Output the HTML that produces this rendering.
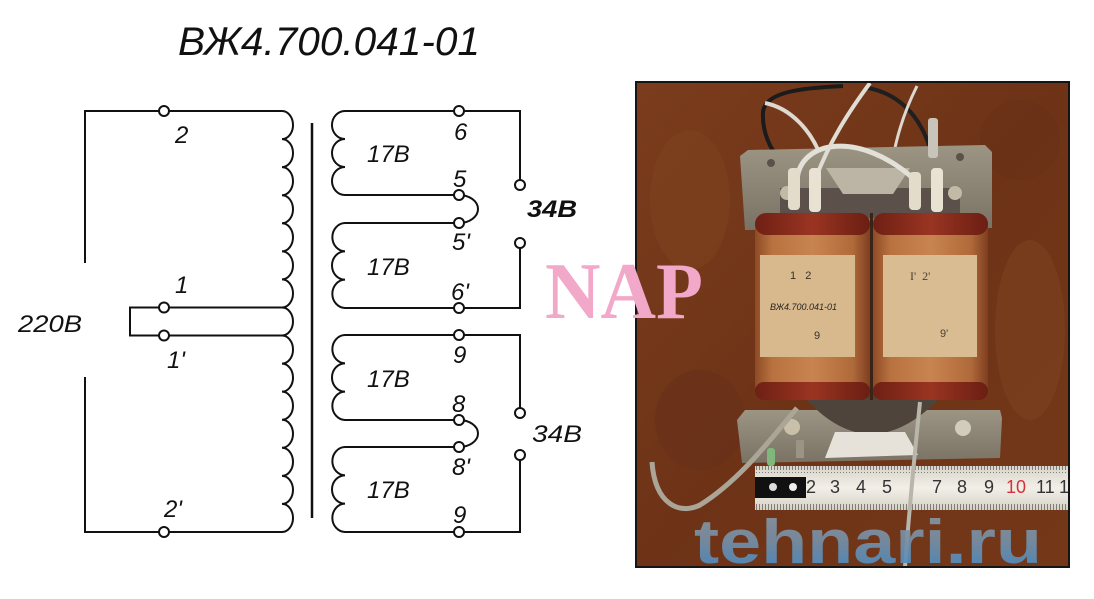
<!DOCTYPE html>
<html>
<head>
<meta charset="utf-8">
<style>
  html,body{margin:0;padding:0;background:#fff;}
  svg{display:block;}
  .lbl{font-family:"Liberation Sans","DejaVu Sans",sans-serif;font-style:italic;font-size:24px;fill:#111;}
  .w{fill:none;stroke:#111;stroke-width:2;}
  .c{fill:#fff;stroke:#111;stroke-width:2;}
</style>
</head>
<body>
<svg width="1094" height="599" viewBox="0 0 1094 599" xmlns="http://www.w3.org/2000/svg">
  <defs>
    <linearGradient id="bg" x1="0" y1="0" x2="1" y2="1">
      <stop offset="0" stop-color="#7a3c1c"/>
      <stop offset="0.5" stop-color="#6e3317"/>
      <stop offset="1" stop-color="#743818"/>
    </linearGradient>
    <linearGradient id="cyl" x1="0" y1="0" x2="1" y2="0">
      <stop offset="0" stop-color="#8e4a26"/>
      <stop offset="0.15" stop-color="#b8723f"/>
      <stop offset="0.5" stop-color="#c88450"/>
      <stop offset="0.85" stop-color="#b06a3a"/>
      <stop offset="1" stop-color="#7e3e20"/>
    </linearGradient>
    <linearGradient id="rim" x1="0" y1="0" x2="1" y2="0">
      <stop offset="0" stop-color="#6e2014"/>
      <stop offset="0.5" stop-color="#9a3422"/>
      <stop offset="1" stop-color="#6a1e12"/>
    </linearGradient>
    <linearGradient id="metal" x1="0" y1="0" x2="0" y2="1">
      <stop offset="0" stop-color="#9c9584"/>
      <stop offset="1" stop-color="#7a7264"/>
    </linearGradient>
    <linearGradient id="ruler" x1="0" y1="0" x2="0" y2="1">
      <stop offset="0" stop-color="#d8d4ca"/>
      <stop offset="0.5" stop-color="#f2efe8"/>
      <stop offset="1" stop-color="#d6d2c6"/>
    </linearGradient>
    <linearGradient id="wm" x1="0" y1="0" x2="0" y2="1">
      <stop offset="0" stop-color="#8a98a4"/>
      <stop offset="0.45" stop-color="#7890a6"/>
      <stop offset="1" stop-color="#3f8ccc"/>
    </linearGradient>
    <pattern id="ticks" x="0" y="0" width="3" height="8" patternUnits="userSpaceOnUse">
      <rect x="0" y="0" width="1" height="6" fill="#555"/>
    </pattern>
    <clipPath id="photo"><rect x="636" y="82" width="433" height="485"/></clipPath>
  </defs>

  <!-- ================= SCHEMATIC ================= -->
  <text x="178" y="55" font-family="Liberation Sans, DejaVu Sans, sans-serif" font-style="italic" font-size="40" fill="#111" textLength="302" lengthAdjust="spacingAndGlyphs">ВЖ4.700.041-01</text>

  <!-- core -->
  <line x1="312" y1="123" x2="312" y2="518" stroke="#111" stroke-width="2.5"/>

  <!-- primary winding -->
  <path class="w" d="M85 263 V111 H282
    A11 14.03 0 0 1 282 139.07
    A11 14.03 0 0 1 282 167.13
    A11 14.03 0 0 1 282 195.2
    A11 14.03 0 0 1 282 223.27
    A11 14.03 0 0 1 282 251.33
    A11 14.03 0 0 1 282 279.4
    A11 14.03 0 0 1 282 307.47
    A11 14.03 0 0 1 282 335.53
    A11 14.03 0 0 1 282 363.6
    A11 14.03 0 0 1 282 391.67
    A11 14.03 0 0 1 282 419.73
    A11 14.03 0 0 1 282 447.8
    A11 14.03 0 0 1 282 475.87
    A11 14.03 0 0 1 282 503.93
    A11 14.03 0 0 1 282 532
    H85 V377"/>
  <path class="w" d="M282 307.47 H130 V335.53 H282"/>

  <!-- secondary 1 -->
  <path class="w" d="M520 180 V111 H345
    A13 14 0 0 0 345 139
    A13 14 0 0 0 345 167
    A13 14 0 0 0 345 195 H459"/>
  <path class="w" d="M459 195 A19 14 0 0 1 459 223"/>
  <path class="w" d="M459 223 H345
    A13 14.17 0 0 0 345 251.33
    A13 14.17 0 0 0 345 279.67
    A13 14.17 0 0 0 345 308 H520 V248"/>

  <!-- secondary 2 -->
  <path class="w" d="M520 408 V335 H345
    A13 14.17 0 0 0 345 363.33
    A13 14.17 0 0 0 345 391.67
    A13 14.17 0 0 0 345 420 H459"/>
  <path class="w" d="M459 420 A19 13.5 0 0 1 459 447"/>
  <path class="w" d="M459 447 H345
    A13 14.17 0 0 0 345 475.33
    A13 14.17 0 0 0 345 503.67
    A13 14.17 0 0 0 345 532 H520 V460"/>

  <!-- terminals -->
  <circle class="c" cx="164" cy="111" r="5"/>
  <circle class="c" cx="164" cy="307.5" r="5"/>
  <circle class="c" cx="164" cy="335.5" r="5"/>
  <circle class="c" cx="164" cy="532" r="5"/>
  <circle class="c" cx="459" cy="111" r="5"/>
  <circle class="c" cx="459" cy="195" r="5"/>
  <circle class="c" cx="459" cy="223" r="5"/>
  <circle class="c" cx="459" cy="308" r="5"/>
  <circle class="c" cx="520" cy="185" r="5"/>
  <circle class="c" cx="520" cy="243" r="5"/>
  <circle class="c" cx="459" cy="335" r="5"/>
  <circle class="c" cx="459" cy="420" r="5"/>
  <circle class="c" cx="459" cy="447" r="5"/>
  <circle class="c" cx="459" cy="532" r="5"/>
  <circle class="c" cx="520" cy="413" r="5"/>
  <circle class="c" cx="520" cy="455" r="5"/>

  <!-- labels -->
  <text class="lbl" x="175" y="143">2</text>
  <text class="lbl" x="175" y="293">1</text>
  <text class="lbl" x="167" y="368">1'</text>
  <text class="lbl" x="164" y="517">2'</text>
  <text class="lbl" x="18" y="332" font-size="26" textLength="64" lengthAdjust="spacingAndGlyphs">220В</text>

  <text class="lbl" x="454" y="140">6</text>
  <text class="lbl" x="453" y="187">5</text>
  <text class="lbl" x="452" y="250">5'</text>
  <text class="lbl" x="451" y="300">6'</text>
  <text class="lbl" x="367" y="162">17В</text>
  <text class="lbl" x="367" y="275">17В</text>
  <text class="lbl" x="527" y="217" font-weight="bold" font-size="25" textLength="50" lengthAdjust="spacingAndGlyphs">34В</text>

  <text class="lbl" x="453" y="363">9</text>
  <text class="lbl" x="452" y="412">8</text>
  <text class="lbl" x="452" y="475">8'</text>
  <text class="lbl" x="453" y="523">9</text>
  <text class="lbl" x="367" y="387">17В</text>
  <text class="lbl" x="367" y="498">17В</text>
  <text class="lbl" x="532" y="442" font-size="25" textLength="50" lengthAdjust="spacingAndGlyphs">34В</text>

  <!-- ================= PHOTO ================= -->
  <g clip-path="url(#photo)">
    <rect x="636" y="82" width="433" height="485" fill="url(#bg)"/>
    <!-- texture blotches -->
    <ellipse cx="690" cy="200" rx="40" ry="70" fill="#80441f" opacity="0.5"/>
    <ellipse cx="1030" cy="330" rx="35" ry="90" fill="#7e431f" opacity="0.5"/>
    <ellipse cx="700" cy="420" rx="45" ry="50" fill="#66301a" opacity="0.5"/>
    <ellipse cx="1020" cy="140" rx="40" ry="40" fill="#66301a" opacity="0.4"/>

    <!-- wires top -->
    <path d="M843 86 C800 88 765 92 763 112 C762 132 770 150 782 162" fill="none" stroke="#1b1b1b" stroke-width="4"/>
    <path d="M868 88 C905 95 930 125 936 178" fill="none" stroke="#1f1f1f" stroke-width="4"/>
    <path d="M765 103 C790 108 812 130 822 160" fill="none" stroke="#dedad2" stroke-width="4"/>
    <path d="M917 86 C905 110 897 135 893 158" fill="none" stroke="#dcd8d0" stroke-width="3"/>

    <!-- upper bracket -->
    <polygon points="740,156 748,150 985,145 992,152 992,228 745,230" fill="url(#metal)"/>
    <circle cx="771" cy="163" r="4" fill="#5a5248"/>
    <circle cx="960" cy="157" r="4" fill="#5a5248"/>
    <rect x="780" y="188" width="180" height="30" fill="#5c514a"/>
    <polygon points="826,168 910,168 893,194 843,194" fill="#bcb5a5"/>
    <circle cx="787" cy="193" r="7" fill="#c2baa6"/>
    <circle cx="955" cy="193" r="7" fill="#c2baa6"/>

    <path d="M797 180 C800 140 860 130 915 180" fill="none" stroke="#e3e0d8" stroke-width="5"/>
    <path d="M815 180 C830 140 850 110 870 83" fill="none" stroke="#e0ddd5" stroke-width="4"/>
    <rect x="928" y="118" width="10" height="40" rx="3" fill="#c9c4ba"/>

    <rect x="788" y="168" width="12" height="42" rx="4" fill="#e4dcca"/>
    <rect x="809" y="168" width="12" height="44" rx="4" fill="#e9e2d2"/>
    <rect x="909" y="172" width="12" height="38" rx="4" fill="#e4dcca"/>
    <rect x="931" y="168" width="12" height="44" rx="4" fill="#e9e2d2"/>

    <!-- bottom bracket -->
    <polygon points="737,420 745,410 1000,410 1002,418 1000,458 742,463" fill="url(#metal)"/>
    <path d="M805 398 Q870 470 940 398 Z" fill="#4e443c"/>
    <polygon points="835,432 905,432 918,455 825,458" fill="#e6e2da"/>
    <circle cx="792" cy="427" r="8" fill="#c8c0a8"/>
    <circle cx="963" cy="428" r="8" fill="#d2ccbc"/>
    <rect x="796" y="440" width="8" height="18" fill="#9a9484"/>
    <rect x="767" y="448" width="8" height="18" rx="3" fill="#7fb87a"/>

    <!-- coils -->
    <g>
      <rect x="755" y="213" width="115" height="187" rx="14" fill="url(#cyl)"/>
      <rect x="755" y="213" width="115" height="22" rx="11" fill="url(#rim)"/>
      <rect x="755" y="382" width="115" height="18" rx="9" fill="url(#rim)"/>
      <rect x="760" y="255" width="95" height="102" fill="#d8b98e"/>
      <text x="790" y="279" font-family="Liberation Sans, sans-serif" font-size="11" fill="#3a3028">1&#160;&#160;&#160;2</text>
      <text x="770" y="310" font-family="Liberation Sans, sans-serif" font-style="italic" font-size="9" fill="#2a2420">ВЖ4.700.041-01</text>
      <text x="814" y="339" font-family="Liberation Sans, sans-serif" font-size="11" fill="#3a3028">9</text>
    </g>
    <g>
      <rect x="873" y="213" width="115" height="187" rx="14" fill="url(#cyl)"/>
      <rect x="873" y="213" width="115" height="22" rx="11" fill="url(#rim)"/>
      <rect x="873" y="382" width="115" height="18" rx="9" fill="url(#rim)"/>
      <rect x="883" y="255" width="94" height="102" fill="#dabc92"/>
      <text x="910" y="280" font-family="Liberation Serif, serif" font-size="12" fill="#4a4034">I'&#160;&#160;2'</text>
      <text x="940" y="337" font-family="Liberation Sans, sans-serif" font-size="11" fill="#4a4034">9'</text>
    </g>
    <rect x="870" y="213" width="3" height="187" fill="#3a2418"/>

    <!-- ruler -->
    <rect x="755" y="466" width="314" height="44" fill="url(#ruler)"/>
    <rect x="755" y="466" width="314" height="7" fill="url(#ticks)" opacity="0.7"/>
    <rect x="755" y="503" width="314" height="7" fill="url(#ticks)" opacity="0.7"/>
    <rect x="755" y="477" width="51" height="21" fill="#111"/>
    <circle cx="773" cy="487" r="4" fill="#ddd"/>
    <circle cx="793" cy="487" r="4" fill="#eee"/>
    <g font-family="Liberation Sans, sans-serif" font-size="18" fill="#333">
      <text x="806" y="493">2</text>
      <text x="830" y="493">3</text>
      <text x="856" y="493">4</text>
      <text x="882" y="493">5</text>
      <text x="932" y="493">7</text>
      <text x="957" y="493">8</text>
      <text x="984" y="493">9</text>
      <text x="1006" y="493" fill="#d8303a">10</text>
      <text x="1036" y="493">11</text>
      <text x="1059" y="493">1</text>
    </g>

    <!-- gray wires -->
    <path d="M797 408 C770 440 740 480 700 505 C680 515 655 505 652 462" fill="none" stroke="#aaa596" stroke-width="5"/>
    <path d="M920 402 C915 450 910 500 905 567" fill="none" stroke="#bab5aa" stroke-width="4"/>

    <!-- watermark -->
    <text x="694" y="563" font-family="Liberation Sans, DejaVu Sans, sans-serif" font-weight="bold" font-size="62" fill="url(#wm)" opacity="0.92" textLength="348" lengthAdjust="spacingAndGlyphs">tehnari.ru</text>
  </g>
  <rect x="636" y="82" width="433" height="485" fill="none" stroke="#151515" stroke-width="2"/>

  <!-- pink NAP watermark -->
  <text x="545" y="318" font-family="Liberation Serif, DejaVu Serif, serif" font-weight="bold" font-size="80" fill="#f2a8c8" textLength="158" lengthAdjust="spacingAndGlyphs">NAP</text>
</svg>
</body>
</html>
